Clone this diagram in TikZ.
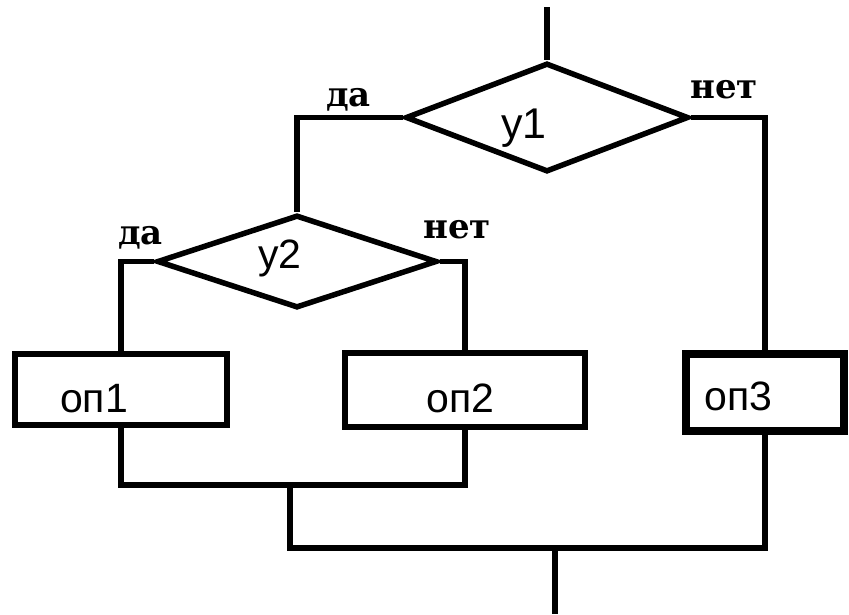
\documentclass[tikz,border=0pt]{standalone}
\usepackage{fontspec}
\setmainfont{Liberation Sans}
\newfontfamily\lblfont{DejaVu Serif}
\usetikzlibrary{shapes.geometric}
\tikzset{
  flow/.style={line width=5.5pt, line join=miter},
  cond/.style={draw, diamond, line width=5.5pt, inner sep=0pt, minimum width=#1},
  opbox/.style={draw, rectangle, line width=5.5pt, inner sep=0pt},
  optext/.style={anchor=base west, inner sep=0pt, font=\fontsize{41}{41}\selectfont},
  lbl/.style={anchor=base west, inner sep=0pt, font=\lblfont\bfseries\fontsize{34}{34}\selectfont}
}
\begin{document}
\begin{tikzpicture}[x=1pt, y=-1pt]
\useasboundingbox (0,0) rectangle (849,614);
% conditions
\node[cond=283pt, minimum height=109pt, aspect=2.6] (y1) at (547,117.5) {};
\node[cond=280pt, minimum height=93pt, aspect=3] (y2) at (297,261.5) {};
% operations
\node[opbox, minimum width=212pt, minimum height=71pt] (op1) at (121,389.5) {};
\node[opbox, minimum width=240pt, minimum height=74pt] (op2) at (465,390) {};
\node[opbox, line width=8pt, minimum width=158pt, minimum height=77pt] (op3) at (765,392.5) {};
% texts
\node[optext, font=\fontsize{43}{43}\selectfont] (t1) at (501,138) {y1};
\node[optext] (t2) at (258,268) {y2};
\node[optext] (to1) at (60,412) {оп1};
\node[optext] (to2) at (426,412) {оп2};
\node[optext] (to3) at (704,410) {оп3};
\node[lbl] (l1) at (326,106) {да};
\node[lbl] (l2) at (690,98) {нет};
\node[lbl] (l3) at (118,244) {да};
\node[lbl] (l4) at (423,238) {нет};
% coordinates
\coordinate (start) at (547,7);
\coordinate (m1) at (290,485);
\coordinate (m2) at (555,548);
\coordinate (fin) at (555,614);
% connectors
\draw[flow] (start) -- (y1.north);
\draw[flow] (y1.west) -| (y2.north);
\draw[flow] (y1.east) -| (op3.north);
\draw[flow] (y2.west) -| (op1.north);
\draw[flow] (y2.east) -| (op2.north);
\draw[flow] (op1.south) |- (m1) -| (op2.south);
\draw[flow] (m1) |- (m2) -| (op3.south);
\draw[flow] (m2) -- (fin);
\end{tikzpicture}
\end{document}
